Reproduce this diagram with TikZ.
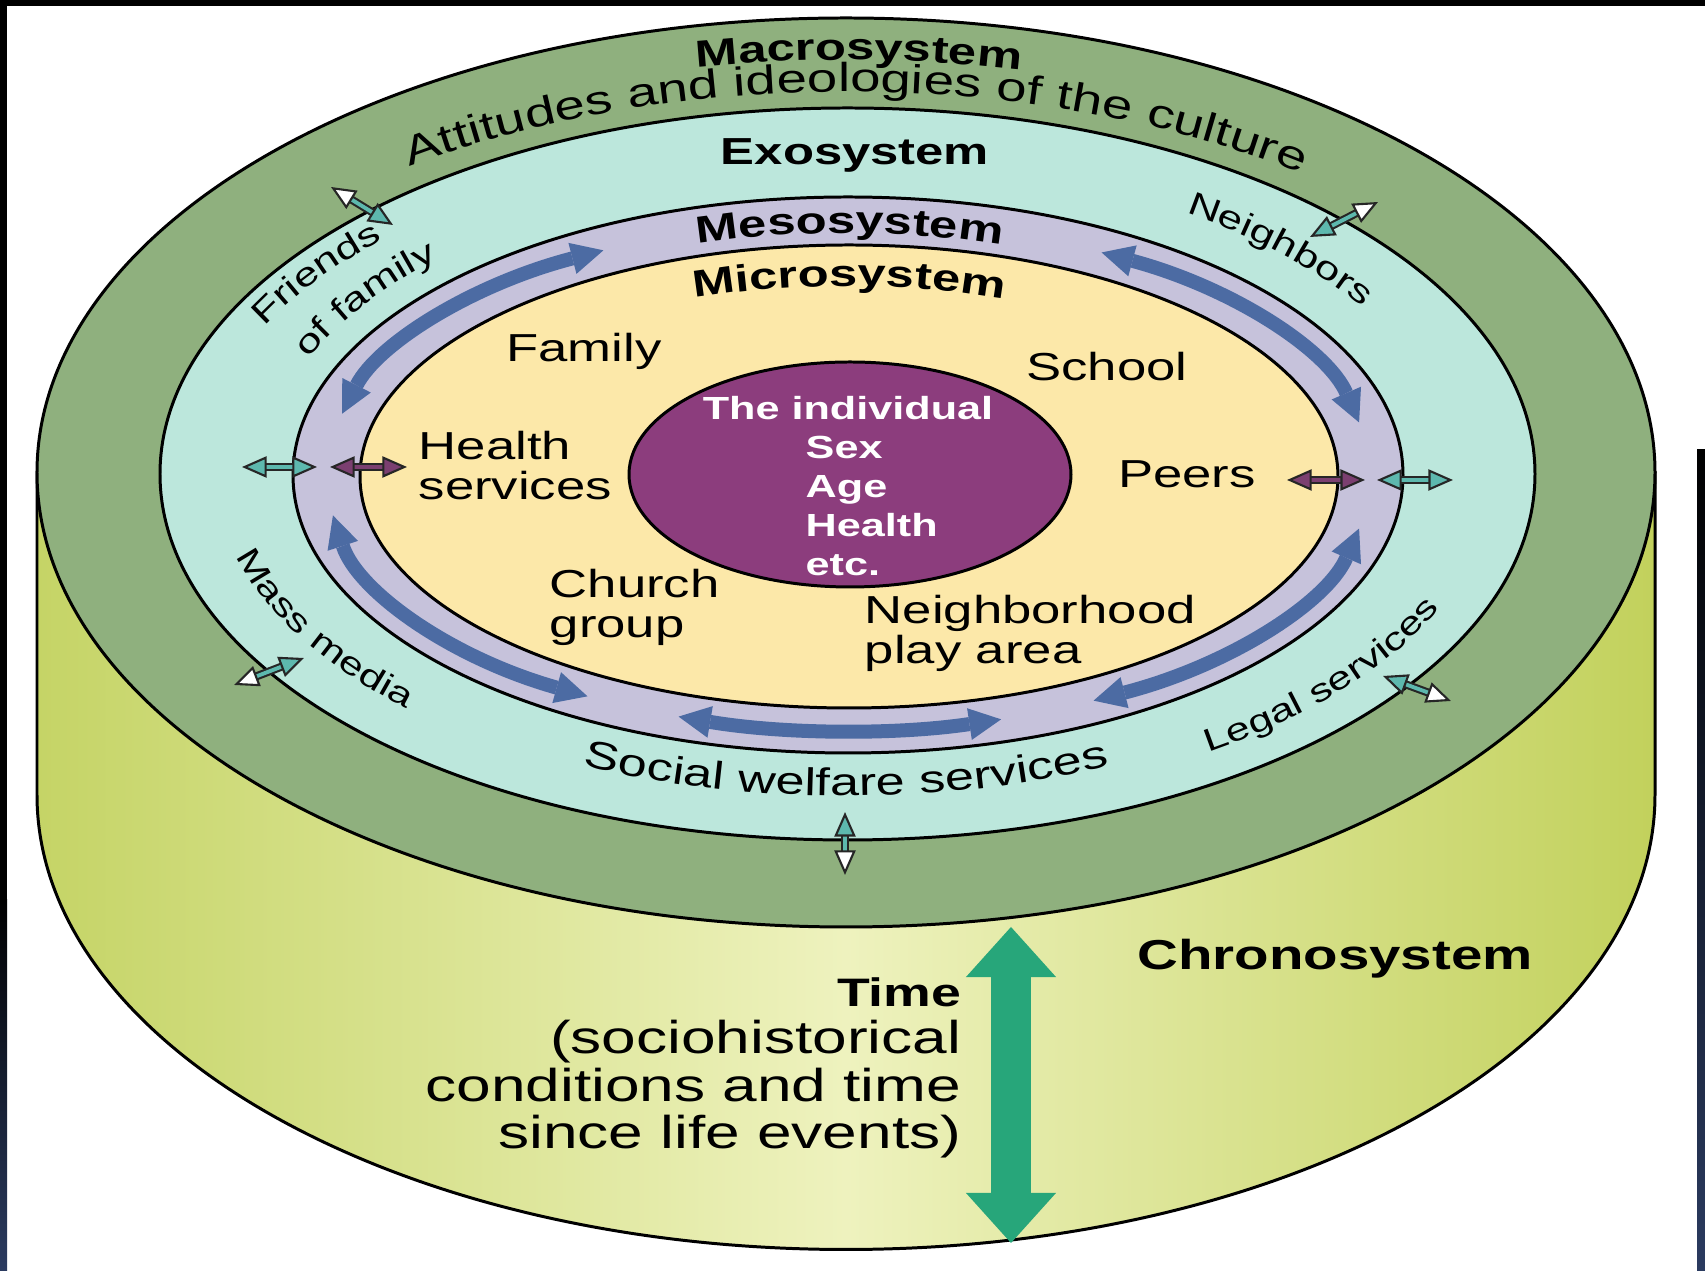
\documentclass[tikz,border=0pt]{standalone}
\usepackage{fontspec}
\setmainfont{Liberation Sans}[FakeStretch=1.35]
\usetikzlibrary{arrows.meta}
\usetikzlibrary{decorations.text}

\definecolor{vertmacro}{HTML}{8FB07E}
\definecolor{cyanexo}{HTML}{BCE7DC}
\definecolor{lavandemeso}{HTML}{C6C2DB}
\definecolor{jaunemicro}{HTML}{FCE8A9}
\definecolor{violetindiv}{HTML}{8C3D7D}
\definecolor{bleufleche}{HTML}{4C6BA3}
\definecolor{verttemps}{HTML}{27A67A}
\definecolor{turq}{HTML}{5DB8AE}
\definecolor{violetpointe}{HTML}{7B3F70}
\definecolor{chronobord}{HTML}{C5D466}
\definecolor{chronobordd}{HTML}{C2D15C}
\definecolor{chronomilieu}{HTML}{EEF2BE}
\definecolor{bleunuit}{HTML}{2B3B60}

\begin{document}
\begin{tikzpicture}[x=0.01cm,y=0.01cm]
% définition des paramètres
\newcommand{\policetitre}{\bfseries\fontsize{10.7}{12}\selectfont}
\newcommand{\policechrono}{\bfseries\fontsize{11.9}{13}\selectfont}
\newcommand{\policeetiq}{\fontsize{11.1}{11.4}\selectfont}
\newcommand{\policeindiv}{\bfseries\fontsize{9.1}{11.1}\selectfont}
\newcommand{\policeculture}{\fontsize{11.5}{13}\selectfont}
\newcommand{\policeexo}{\fontsize{9.3}{10}\selectfont}
\newcommand{\policemedia}{\fontsize{9.1}{10}\selectfont}
\newcommand{\policesocial}{\fontsize{11}{12}\selectfont}
\newcommand{\policetemps}{\fontsize{13.1}{13.5}\selectfont}
\newcommand{\policetempsgras}{\bfseries\fontsize{11.3}{13.5}\selectfont}
\newcommand{\centrex}{846} % abscisse du centre des anneaux
\newcommand{\centrey}{474} % ordonnée du centre (vers le bas)

\tikzstyle anneau=[draw=black,line width=0.85pt]
\tikzstyle texteanneau=[decorate]
\tikzstyle titre=[inner sep=0pt,font=\policetitre]
\tikzstyle etiquette=[inner sep=0pt,font=\policeetiq,align=left]
\tikzstyle indiv=[inner sep=0pt,font=\policeindiv,text=white,align=left]
\tikzstyle flechemeso=[color=bleufleche,line width=0.14cm,{Triangle[width=0.32cm,length=0.32cm,line width=0pt]}-{Triangle[width=0.32cm,length=0.32cm,line width=0pt]}]
\tikzstyle petitefleche=[draw=black!85,line width=0.6pt,double=turq,double distance=1.1pt]
\tikzstyle petiteflechev=[draw=black!85,line width=0.6pt,double=violetpointe,double distance=1.1pt]
\tikzstyle claireturq=[{Triangle[width=6pt,length=7pt,line width=0.6pt,fill=white]}-{Triangle[width=6pt,length=7pt,line width=0.6pt,fill=turq]}]
\tikzstyle turqclaire=[{Triangle[width=6pt,length=7pt,line width=0.6pt,fill=turq]}-{Triangle[width=6pt,length=7pt,line width=0.6pt,fill=white]}]
\tikzstyle turqturq=[{Triangle[width=6pt,length=7pt,line width=0.6pt,fill=turq]}-{Triangle[width=6pt,length=7pt,line width=0.6pt,fill=turq]}]
\tikzstyle violetviolet=[{Triangle[width=6pt,length=7pt,line width=0.6pt,fill=violetpointe]}-{Triangle[width=6pt,length=7pt,line width=0.6pt,fill=violetpointe]}]
\tikzstyle flechetemps=[color=verttemps,line width=0.4cm,{Triangle[width=0.9cm,length=0.5cm,line width=0pt]}-{Triangle[width=0.9cm,length=0.5cm,line width=0pt]}]

% le fond et le cadre
\fill[white] (0,0) rectangle (1705,-1271);
\fill[black] (0,0) rectangle (1705,-6);
\fill[black] (0,0) rectangle (7,-1271);
\shade[top color=black,bottom color=bleunuit] (0,-900) rectangle (7,-1271);
\shade[top color=black,bottom color=bleunuit] (1697,-450) rectangle (1705,-1271);
\useasboundingbox (0,0) rectangle (1705,-1271);

% le cylindre (chronosystème)
\shadedraw[anneau,left color=chronobord,right color=chronobordd,middle color=chronomilieu]
  (37,-472.5) -- (37,-795) arc[start angle=180,end angle=360,x radius=809,y radius=454.5] -- (1655,-472.5) -- cycle;

% les anneaux
\filldraw[anneau,fill=vertmacro] (846,-472.5) ellipse (809 and 454.5);
\filldraw[anneau,fill=cyanexo] (847.5,-474) ellipse (687.5 and 366);
\filldraw[anneau,fill=lavandemeso] (848,-475) ellipse (555 and 278);
\filldraw[anneau,fill=jaunemicro] (849,-476.5) ellipse (489 and 231.5);
\filldraw[anneau,fill=violetindiv] (850,-474.5) ellipse (221 and 112.5);

% les flèches du mésosystème
\foreach \debut/\fin in {166/118,12/61,-12/-62,251/287,189/240}
  \draw[flechemeso,shift={(848.5,-475.5)}] (\debut:522 and 255) arc[start angle=\debut,end angle=\fin,x radius=522,y radius=255];

% les petites flèches entre systèmes
\coordinate (amisA) at (331,-187);   \coordinate (amisB) at (393,-225);
\coordinate (voisinsA) at (1310,-237); \coordinate (voisinsB) at (1378,-202);
\coordinate (santeA) at (242,-467);  \coordinate (santeB) at (317,-467);
\coordinate (santeC) at (330,-467);  \coordinate (santeD) at (407,-467);
\coordinate (pairsA) at (1287,-480); \coordinate (pairsB) at (1365,-480);
\coordinate (pairsC) at (1377,-480); \coordinate (pairsD) at (1453,-480);
\coordinate (mediasA) at (234,-685); \coordinate (mediasB) at (304,-658);
\coordinate (juriA) at (1383,-676);  \coordinate (juriB) at (1451,-701);
\coordinate (socialA) at (845,-812); \coordinate (socialB) at (845,-875);
\draw[petitefleche,claireturq] (amisA) -- (amisB);
\draw[petitefleche,turqclaire] (voisinsA) -- (voisinsB);
\draw[petitefleche,turqturq] (santeA) -- (santeB);
\draw[petiteflechev,violetviolet] (santeC) -- (santeD);
\draw[petiteflechev,violetviolet] (pairsA) -- (pairsB);
\draw[petitefleche,turqturq] (pairsC) -- (pairsD);
\draw[petitefleche,claireturq] (mediasA) -- (mediasB);
\draw[petitefleche,turqclaire] (juriA) -- (juriB);
\draw[petitefleche,turqclaire] (socialA) -- (socialB);

% la flèche du temps
\coordinate (tempshaut) at (1011,-927);
\coordinate (tempsbas) at (1011,-1243);
\draw[flechetemps] (tempshaut) -- (tempsbas);

% les textes courbes
\path[texteanneau,shift={(\centrex,-\centrey)},decoration={text along path,text align=center,text={|\policetitre|Macrosystem}}]
  (114:800 and 414) arc[start angle=114,end angle=64,x radius=800,y radius=414];
\path[texteanneau,shift={(\centrex,-\centrey)},decoration={text along path,text align=center,text={|\policeculture|Attitudes and ideologies of the culture}}]
  (136:736 and 382) arc[start angle=136,end angle=42,x radius=736,y radius=382];
\path[texteanneau,shift={(\centrex,-\centrey)},decoration={text along path,text align=center,text={|\policetitre|Mesosystem}}]
  (120:494 and 241) arc[start angle=120,end angle=59,x radius=494,y radius=241];
\path[texteanneau,shift={(\centrex,-\centrey)},decoration={text along path,text align=center,text={|\policetitre|Microsystem}}]
  (125:430 and 188) arc[start angle=125,end angle=54,x radius=430,y radius=188];
\path[texteanneau,shift={(\centrex,-\centrey)},decoration={text along path,text={|\policeexo|Friends}}]
  (154:647 and 336) arc[start angle=154,end angle=95,x radius=647,y radius=336];
\path[texteanneau,shift={(\centrex,-\centrey)},decoration={text along path,text={|\policeexo|of family}}]
  (157.5:582 and 301) arc[start angle=157.5,end angle=95,x radius=582,y radius=301];
\path[texteanneau,shift={(\centrex,-\centrey)},decoration={text along path,text={|\policeexo|Neighbors}}]
  (56:608 and 315) arc[start angle=56,end angle=0,x radius=608,y radius=315];
\path[texteanneau,shift={(\centrex,-\centrey)},decoration={text along path,text={|\policemedia|Mass media}}]
  (194.5:630 and 327) arc[start angle=194.5,end angle=265,x radius=630,y radius=327];
\path[texteanneau,shift={(\centrex,-\centrey)},decoration={text along path,text align=center,text={|\policesocial|Social welfare services}}]
  (225:621 and 322) arc[start angle=225,end angle=315,x radius=621,y radius=322];
\path[texteanneau,shift={(\centrex,-\centrey)},decoration={text along path,text={|\policemedia|Legal services}}]
  (304:648 and 336) arc[start angle=304,end angle=365,x radius=648,y radius=336];

% les textes droits
\node[titre] (exo) at (855,-155) {Exosystem};
\node[etiquette] (famille) at (584,-351) {Family};
\node[etiquette] (ecole) at (1107,-367) {School};
\node[etiquette,anchor=west] (sante) at (418,-466) {Health\\services};
\node[etiquette] (pairs) at (1187,-474) {Peers};
\node[etiquette,anchor=west] (eglise) at (549,-607) {Church\\group};
\node[etiquette,anchor=west] (quartier) at (864,-633) {Neighborhood\\play area};
\node[indiv] (individu) at (848,-408) {The individual};
\node[indiv,anchor=north west] (attributs) at (805,-435) {Sex\\Age\\Health\\etc.};
\node[inner sep=0pt,font=\policechrono] (chrono) at (1335,-959) {Chronosystem};
\node[inner sep=0pt,font=\policetemps,align=right,anchor=east] (temps) at (962,-1068)
  {{\policetempsgras Time}\\(sociohistorical\\conditions and time\\since life events)};
\end{tikzpicture}
\end{document}
